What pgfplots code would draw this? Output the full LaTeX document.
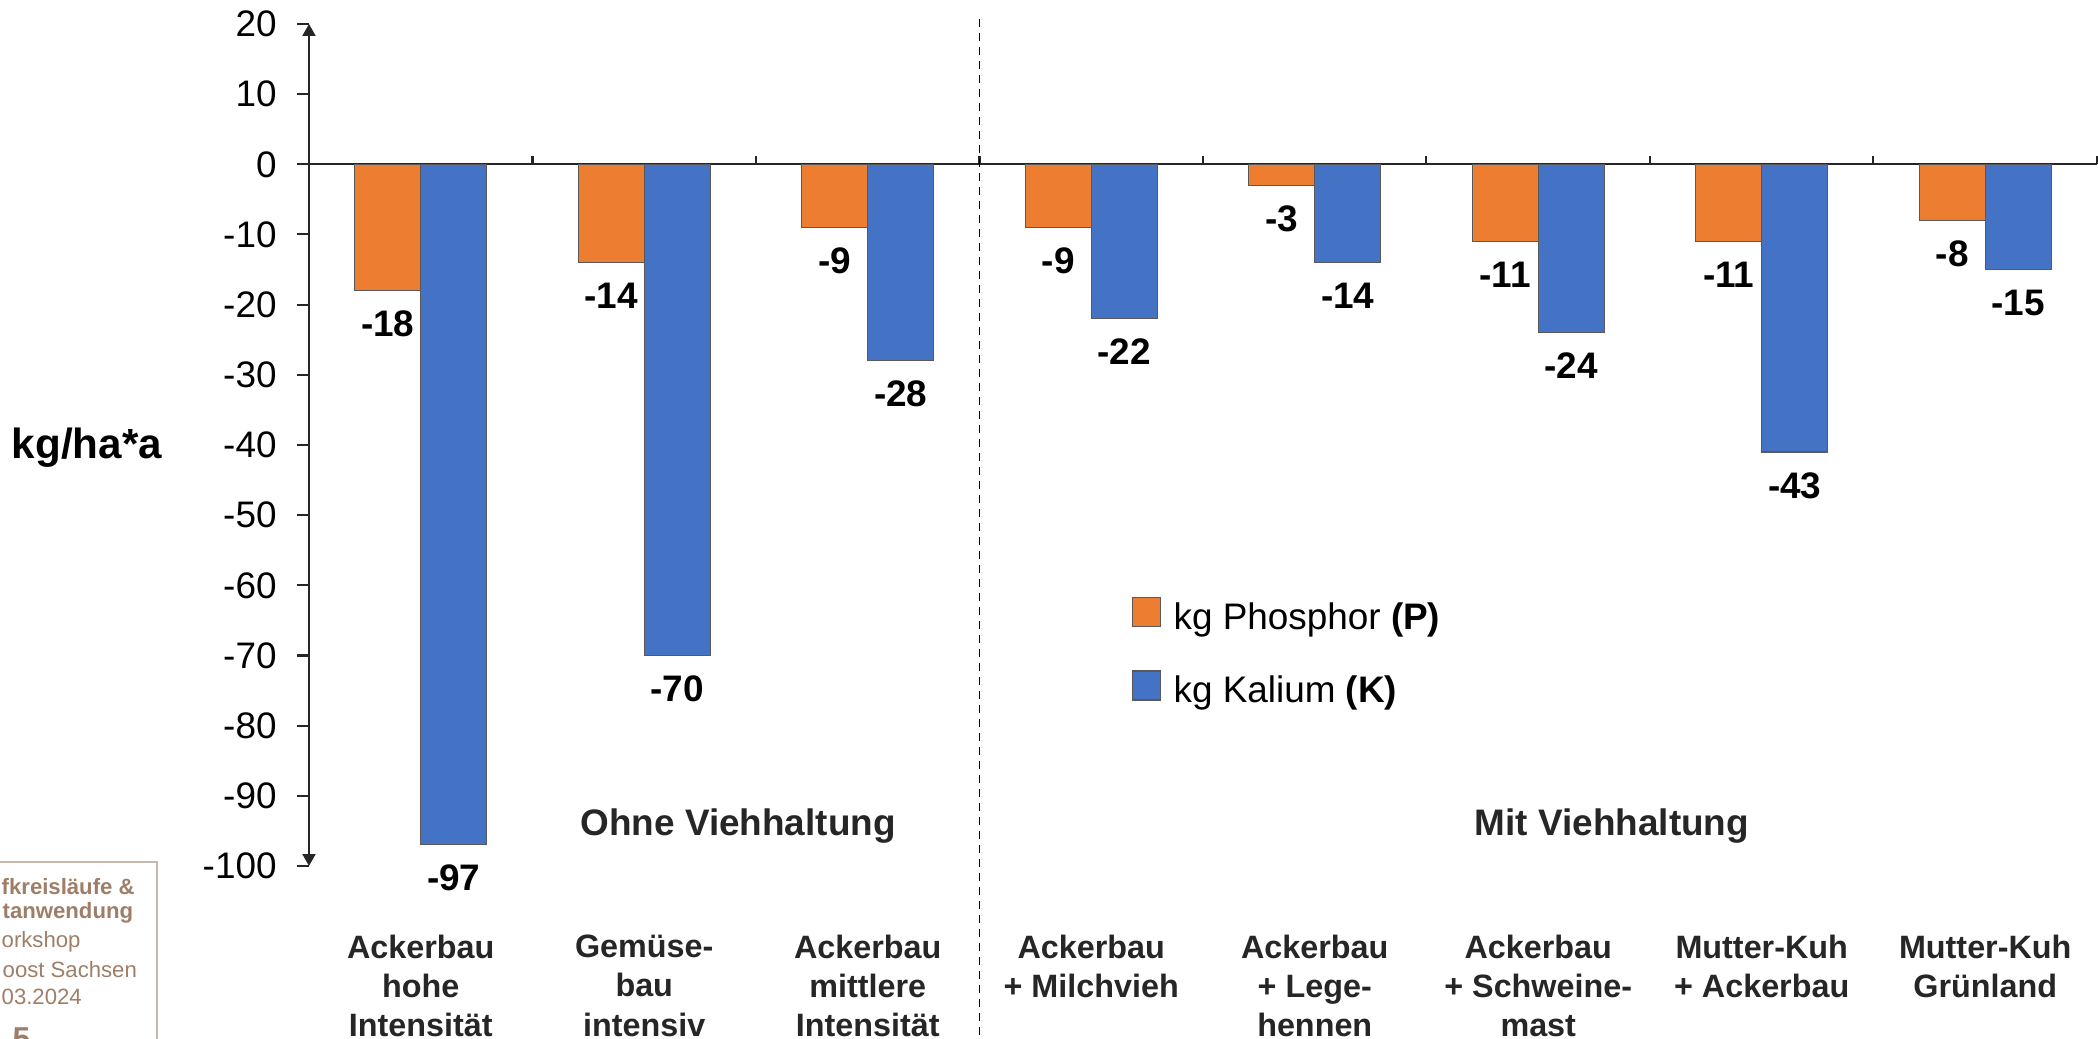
\documentclass[border=0pt]{standalone}
\usepackage{pgfplots}
\pgfplotsset{compat=1.18}
\usepackage{fontspec}
\setmainfont{Liberation Sans}
\usetikzlibrary{arrows.meta}

\definecolor{kP}{HTML}{ED7D31}
\definecolor{kK}{HTML}{4472C4}
\definecolor{axisgray}{HTML}{262626}
\definecolor{brownT}{HTML}{9E7E68}
\definecolor{brownL}{HTML}{C9B8AC}

\begin{document}
\begin{tikzpicture}
\path[use as bounding box] (0,0) rectangle (20.98cm,10.39cm);

% footer box of the slide, cut at the left edge
\draw[brownL, line width=0.4pt] (-0.1cm,1.77cm) -- (1.57cm,1.77cm) -- (1.57cm,-0.1cm);
\begin{scope}[every node/.style={anchor=west, inner sep=0pt, text=brownT, font=\fontsize{6.3}{7.5}\selectfont}]
  \node at (0.01cm,1.52cm) {\bfseries fkreisläufe \&};
  \node at (0.02cm,1.26cm) {\bfseries tanwendung};
  \node at (0.01cm,0.97cm) {orkshop};
  \node at (0.02cm,0.69cm) {oost Sachsen};
  \node at (0.01cm,0.42cm) {03.2024};
  \node[font=\fontsize{9}{10}\selectfont\bfseries] at (0.12cm,0.0cm) {5};
\end{scope}

\begin{axis}[
  at={(3.09cm,1.73cm)}, anchor=south west,
  scale only axis, width=17.88cm, height=8.42cm,
  ybar=0pt, bar width=0.66cm,
  xmin=-0.5, xmax=7.5, ymin=-100, ymax=20,
  axis x line=middle, axis y line=left,
  hide obscured x ticks=false, hide obscured y ticks=false,
  x axis line style={-, axisgray, line width=0.57pt},
  y axis line style={{Triangle[width=1.3mm,length=1.2mm]}-{Triangle[width=1.3mm,length=1.2mm]}, axisgray, line width=0.57pt},
  tick align=outside,
  major tick length=0.12cm,
  ytick={-100,-90,...,20},
  y tick style={axisgray, line width=0.57pt},
  xtick={0,...,7},
  major x tick style={draw=none},
  xticklabels={Ackerbau\\hohe\\Intensität, Gemüse-\\bau\\intensiv, Ackerbau\\mittlere\\Intensität,
    Ackerbau\\+ Milchvieh, Ackerbau\\+ Lege-\\hennen, Ackerbau\\+ Schweine-\\mast,
    Mutter-Kuh\\+ Ackerbau, Mutter-Kuh\\Grünland},
  xticklabel style={font=\fontsize{9.2}{11.2}\selectfont\bfseries, text=axisgray, align=center, anchor=north, yshift=-7.46cm},
  /pgf/number format/assume math mode=true,
  yticklabel style={font=\fontsize{10.5}{12}\selectfont, xshift=-0.08cm},
  ylabel={kg/ha*a},
  ylabel style={rotate=-90, at={(axis description cs:-0.1242,0.4964)}, anchor=center, font=\fontsize{12}{14}\selectfont\bfseries},
  nodes near coords, point meta=explicit symbolic,
  every node near coord/.append style={font=\fontsize{10.5}{12}\selectfont\bfseries, anchor=north, yshift=-0.08cm},
  clip=false,
  legend style={at={(axis cs:3.13,-60.4)}, anchor=north west, draw=none, fill=none,
    font=\fontsize{10.5}{12}\selectfont, row sep=0.27cm, column sep=0.06cm},
  legend cell align=left,
  legend image code/.code={\draw[#1] (0cm,-0.08cm) rectangle (0.28cm,0.21cm);},
]
\addplot[fill=kP, draw=black!65, line width=0.3pt] coordinates {
  (0,-18) [-18] (1,-14) [-14] (2,-9) [-9] (3,-9) [-9]
  (4,-3) [-3] (5,-11) [-11] (6,-11) [-11] (7,-8) [-8]
};
\addlegendentry{kg Phosphor \textbf{(P)}}
% the bar for Mutter-Kuh + Ackerbau is drawn at about -41 in the source, though labelled -43
\addplot[fill=kK, draw=black!65, line width=0.3pt] coordinates {
  (0,-97) [-97] (1,-70) [-70] (2,-28) [-28] (3,-22) [-22]
  (4,-14) [-14] (5,-24) [-24] (6,-41) [-43] (7,-15) [-15]
};
\addlegendentry{kg Kalium \textbf{(K)}}

% small marks between the categories on the zero line
\pgfplotsinvokeforeach{0.5,1.5,2.5,3.5,4.5,5.5,6.5,7.5}{
  \draw[axisgray, line width=0.57pt] (axis cs:#1,0) -- (axis cs:#1,1.15);
}
\draw[black, line width=0.5pt, dash pattern=on 0.8mm off 0.6mm] (axis cs:2.5,20.7) -- (axis cs:2.5,-125);
\node[font=\fontsize{10.5}{12}\selectfont\bfseries, text=axisgray] at (axis cs:1.42,-94.3) {Ohne Viehhaltung};
\node[font=\fontsize{10.5}{12}\selectfont\bfseries, text=axisgray] at (axis cs:5.33,-94.3) {Mit Viehhaltung};
\end{axis}
\end{tikzpicture}
\end{document}
